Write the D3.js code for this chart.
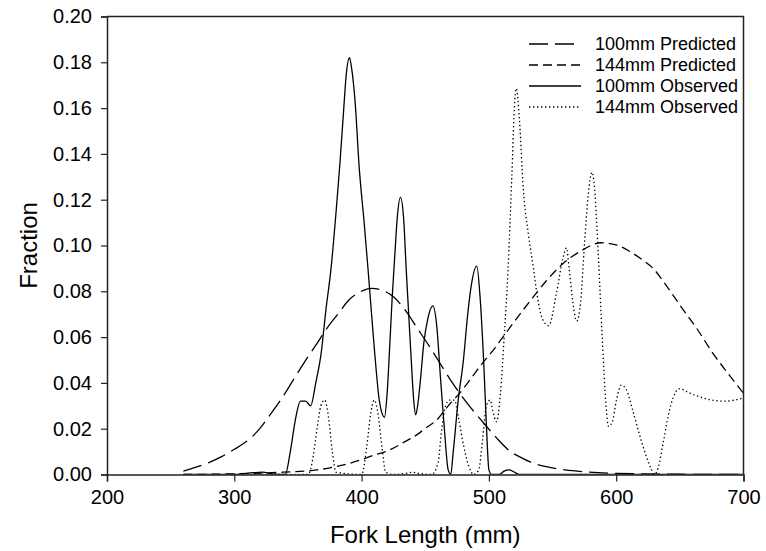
<!DOCTYPE html>
<html>
<head>
<meta charset="utf-8">
<script src="https://cdn.jsdelivr.net/npm/d3@7"></script>
<style>
	body { margin: 0; background: #fff; }
	svg { display: block; font-family: "Liberation Sans", Arial, sans-serif; }
</style>
</head>
<body>
<svg id="chart" width="766" height="551"></svg>
<script>
'use strict'

// x ticks and y ticks
let xTicks = [200, 300, 400, 500, 600, 700];
let yTicks = [0, 0.02, 0.04, 0.06, 0.08, 0.10, 0.12, 0.14, 0.16, 0.18, 0.20];

// 100mm Predicted (long dash)
let pred100X = [260, 270, 280, 290, 300, 312, 320, 328, 337, 346, 355, 365, 373, 382, 390, 399, 408, 416, 425, 434, 443, 452, 460, 469, 477, 486, 496, 506, 517, 525, 532, 545, 560, 575, 600, 650, 700];
let pred100Y = [0.0015, 0.0032, 0.0052, 0.0078, 0.011, 0.0155, 0.020, 0.026, 0.033, 0.041, 0.049, 0.0573, 0.064, 0.0705, 0.0762, 0.0798, 0.0813, 0.0805, 0.0776, 0.072, 0.0645, 0.057, 0.050, 0.042, 0.0355, 0.029, 0.0224, 0.016, 0.010, 0.0075, 0.0056, 0.0034, 0.002, 0.0012, 0.0005, 0.0001, 0];

// 144mm Predicted (short dash)
let pred144X = [260, 300, 338, 365, 380, 399, 410, 422, 433, 443, 451, 459, 468, 477, 486, 494, 503, 511, 519, 532, 545, 558, 572, 588, 600, 611, 620, 629, 640, 650, 663, 676, 688, 700];
let pred144Y = [0, 0.0003, 0.001, 0.002, 0.0035, 0.0063, 0.0085, 0.0107, 0.014, 0.0172, 0.0205, 0.0238, 0.030, 0.0355, 0.0420, 0.048, 0.054, 0.060, 0.066, 0.0755, 0.0845, 0.092, 0.0975, 0.1012, 0.1003, 0.0973, 0.094, 0.090, 0.082, 0.074, 0.064, 0.0529, 0.044, 0.0355];

// 100mm Observed (solid)
let obs100X = [260, 300, 315, 322, 330, 340, 344, 348, 352, 356, 360, 364, 368, 372, 376, 380, 383, 386, 388, 390.5, 392, 395, 398, 402, 405, 410, 414, 418, 420, 422, 424, 426, 428, 430.5, 433, 435, 437, 439, 441, 442.5, 444, 446, 449, 452, 456, 459, 462, 465, 468, 470, 472, 476, 480, 483, 486, 490.5, 493, 496, 498, 500, 502, 508, 512, 516, 520, 524, 700];
let obs100Y = [0, 0, 0.0008, 0.001, 0.0003, 0, 0.01, 0.024, 0.032, 0.032, 0.030, 0.040, 0.052, 0.072, 0.09, 0.115, 0.136, 0.160, 0.175, 0.182, 0.178, 0.162, 0.135, 0.110, 0.090, 0.055, 0.032, 0.025, 0.035, 0.055, 0.077, 0.095, 0.112, 0.121, 0.112, 0.090, 0.070, 0.050, 0.032, 0.026, 0.030, 0.040, 0.058, 0.068, 0.0736, 0.065, 0.042, 0.020, 0.002, 0, 0.010, 0.033, 0.050, 0.068, 0.082, 0.091, 0.078, 0.048, 0.022, 0.002, 0, 0, 0.0015, 0.002, 0.001, 0, 0];

// 144mm Observed (dotted)
let obs144X = [300, 358, 362, 365, 368, 371, 374, 377, 380, 400, 404, 407, 410, 413, 416, 419, 425, 435, 440, 445, 455, 460, 463, 466, 469, 473, 476, 480, 484, 488, 492, 495, 498, 501, 503, 506, 509, 512, 515, 518, 520, 521.5, 524, 527, 531, 535, 538, 542, 547, 553, 558, 561, 563, 566, 569, 572, 575, 578, 581, 583, 586, 589, 592, 594, 597, 600, 604, 608, 613, 618, 623, 627, 630, 633, 637, 641, 645, 650, 656, 665, 675, 685, 693, 700];
let obs144Y = [0, 0, 0.008, 0.020, 0.030, 0.0325, 0.025, 0.010, 0.001, 0, 0.012, 0.026, 0.0325, 0.026, 0.012, 0.001, 0, 0.0005, 0.001, 0.0005, 0, 0.005, 0.020, 0.030, 0.0325, 0.0325, 0.025, 0.013, 0.004, 0, 0.002, 0.015, 0.030, 0.0325, 0.028, 0.023, 0.035, 0.060, 0.089, 0.130, 0.160, 0.1686, 0.155, 0.125, 0.105, 0.090, 0.078, 0.068, 0.065, 0.079, 0.094, 0.099, 0.090, 0.075, 0.067, 0.075, 0.100, 0.122, 0.132, 0.125, 0.095, 0.060, 0.030, 0.021, 0.023, 0.032, 0.039, 0.037, 0.028, 0.018, 0.009, 0.003, 0, 0.003, 0.014, 0.026, 0.034, 0.0375, 0.036, 0.034, 0.0325, 0.032, 0.0325, 0.0335];

let seriesNames = ['100mm Predicted', '144mm Predicted', '100mm Observed', '144mm Observed'];

let width = 766,
	height = 551,
	margin = {top: 16.5, right: 22.5, bottom: 76.5, left: 107};

let svg = d3.select('#chart');

let x = d3.scaleLinear()
	.domain([200, 700])
	.range([margin.left, width - margin.right]);

let y = d3.scaleLinear()
	.domain([0, 0.20])
	.range([height - margin.bottom, margin.top]);

// line styles for each series
let series = [
	{name: seriesNames[0], xs: pred100X, ys: pred100Y, dash: '19,7'},
	{name: seriesNames[1], xs: pred144X, ys: pred144Y, dash: '9,5'},
	{name: seriesNames[2], xs: obs100X, ys: obs100Y, dash: null},
	{name: seriesNames[3], xs: obs144X, ys: obs144Y, dash: '1.4,2.6'}
];

svg.append('defs').append('clipPath')
	.attr('id', 'plot-clip')
	.append('rect')
	.attr('x', margin.left)
	.attr('y', margin.top)
	.attr('width', width - margin.left - margin.right)
	.attr('height', height - margin.top - margin.bottom);

let line = d3.line()
	.x(d => x(d[0]))
	.y(d => y(d[1]))
	.curve(d3.curveMonotoneX);

let plot = svg.append('g').attr('clip-path', 'url(#plot-clip)');

series.forEach(function(s) {
	let pts = s.xs.map((v, i) => [v, s.ys[i]]);
	plot.append('path')
		.datum(pts)
		.attr('fill', 'none')
		.attr('stroke', '#000')
		.attr('stroke-width', 1.3)
		.attr('stroke-dasharray', s.dash)
		.attr('d', line);
});

// axes
let xAxis = d3.axisBottom(x)
	.tickValues(xTicks)
	.tickSize(7)
	.tickPadding(8)
	.tickFormat(d3.format('d'));

let yAxis = d3.axisLeft(y)
	.tickValues(yTicks)
	.tickSize(6)
	.tickPadding(9)
	.tickFormat(d3.format('.2f'));

let gx = svg.append('g')
	.attr('transform', `translate(0,${height - margin.bottom})`)
	.call(xAxis);

let gy = svg.append('g')
	.attr('transform', `translate(${margin.left},0)`)
	.call(yAxis);

[gx, gy].forEach(function(g) {
	g.select('.domain').attr('stroke', '#222').attr('stroke-width', 1.5);
	g.selectAll('.tick line').attr('stroke', '#222').attr('stroke-width', 1.2);
	g.selectAll('.tick text')
		.attr('fill', '#000')
		.style('font-size', '20px')
		.style('font-family', '"Liberation Sans", Arial, sans-serif');
});

// top and right frame
svg.append('path')
	.attr('d', `M${x(200)},${y(0.2)}H${x(700)}V${y(0)}`)
	.attr('fill', 'none')
	.attr('stroke', '#222')
	.attr('stroke-width', 1.5);

// axis titles
svg.append('text')
	.attr('x', (x(200) + x(700)) / 2)
	.attr('y', 543)
	.attr('text-anchor', 'middle')
	.style('font-size', '24px')
	.text('Fork Length (mm)');

svg.append('text')
	.attr('transform', `translate(37,${(y(0) + y(0.2)) / 2}) rotate(-90)`)
	.attr('text-anchor', 'middle')
	.style('font-size', '24px')
	.text('Fraction');

// legend
let legend = svg.append('g');
series.forEach(function(s, i) {
	let ly = 44 + i * 21;
	legend.append('line')
		.attr('x1', 529)
		.attr('x2', 581)
		.attr('y1', ly)
		.attr('y2', ly)
		.attr('stroke', '#000')
		.attr('stroke-width', 1.3)
		.attr('stroke-dasharray', s.dash);
	legend.append('text')
		.attr('x', 595)
		.attr('y', ly)
		.attr('dy', '0.35em')
		.style('font-size', '18px')
		.text(s.name);
});
</script>
</body>
</html>
